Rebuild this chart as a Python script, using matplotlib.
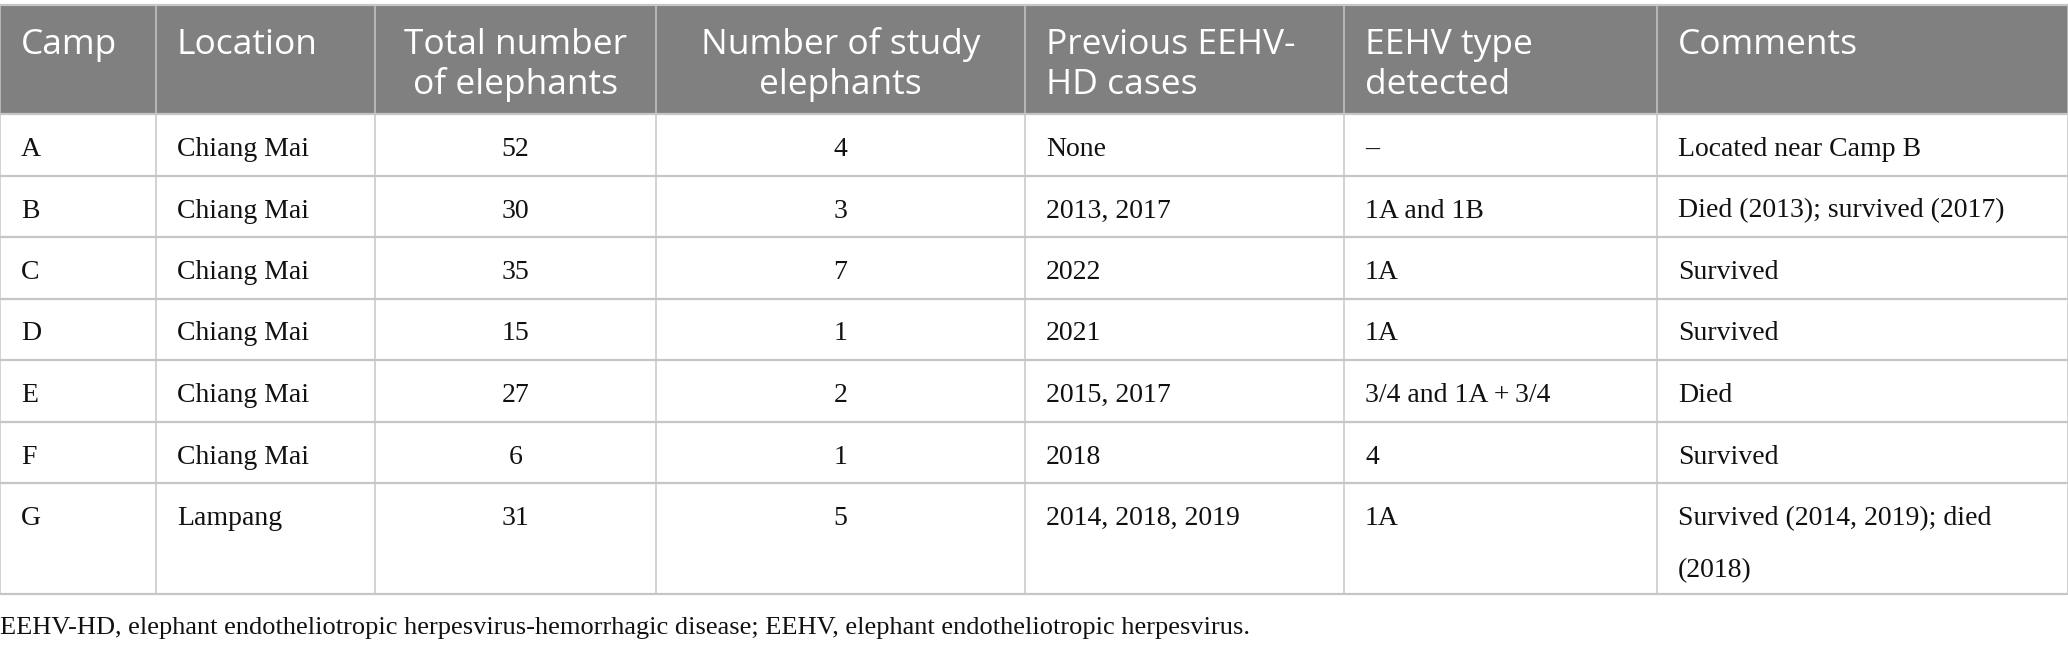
import matplotlib
import matplotlib.pyplot as plt

matplotlib.use('Agg')

# table content
headers = ['Camp', 'Location', 'Total number\nof elephants', 'Number of study\nelephants',
           'Previous EEHV-\nHD cases', 'EEHV type\ndetected', 'Comments']
camps = ['A', 'B', 'C', 'D', 'E', 'F', 'G']
locations = ['Chiang Mai'] * 6 + ['Lampang']
total_elephants = [52, 30, 35, 15, 27, 6, 31]
study_elephants = [4, 3, 7, 1, 2, 1, 5]
previous_cases = ['None', '2013, 2017', '2022', '2021', '2015, 2017', '2018', '2014, 2018, 2019']
eehv_types = ['\u2013', '1A and 1B', '1A', '1A', '3/4 and 1A\u2009+\u20093/4', '4', '1A']
comments = ['Located near Camp B', 'Died (2013); survived (2017)', 'Survived', 'Survived',
            'Died', 'Survived', 'Survived (2014, 2019); died\n(2018)']
footnote = ('EEHV-HD, elephant endotheliotropic herpesvirus-hemorrhagic disease; '
            'EEHV, elephant endotheliotropic herpesvirus.')

# layout (pixels)
W, H = 2068, 646
col_edges = [0, 156, 375, 656, 1025, 1344, 1657, 2068]
centered = [False, False, True, True, False, False, False]
header_top, header_bottom = 5, 114
row_h = 61.5
last_row_h = 111
pad = 21
line_gap = 52

HEADER_BG = '#808080'
GRID = '#c6c6c6'
serif = ['Liberation Serif', 'DejaVu Serif']
sans = ['Open Sans', 'DejaVu Sans']

fig = plt.figure(figsize=(W / 100, H / 100), dpi=100)
ax = fig.add_axes([0, 0, 1, 1])
ax.set_xlim(0, W)
ax.set_ylim(H, 0)
ax.axis('off')

# header band
ax.add_patch(plt.Rectangle((0, header_top), W, header_bottom - header_top,
                           facecolor=HEADER_BG, edgecolor='none'))

# row boundaries
row_tops = [header_bottom]
for i in range(len(camps)):
    h = last_row_h if i == len(camps) - 1 else row_h
    row_tops.append(row_tops[-1] + h)
table_bottom = row_tops[-1]

# grid lines
for y in [header_top] + row_tops:
    ax.plot([0, W], [y, y], color=GRID, lw=1.6, solid_capstyle='butt')
for x in col_edges:
    ax.plot([x, x], [header_top, table_bottom], color=GRID, lw=1.1, solid_capstyle='butt')


def cell_x(c):
    if centered[c]:
        return (col_edges[c] + col_edges[c + 1]) / 2, 'center'
    return col_edges[c] + pad, 'left'


# header text
for c, label in enumerate(headers):
    x, ha = cell_x(c)
    for k, line in enumerate(label.split('\n')):
        ax.text(x, header_top + 49 + k * 40, line, ha=ha, va='baseline',
                color='white', fontsize=25.5, family=sans)

# body text
columns = [camps, locations, total_elephants, study_elephants, previous_cases, eehv_types, comments]
for r in range(len(camps)):
    for c, col in enumerate(columns):
        x, ha = cell_x(c)
        for k, line in enumerate(str(col[r]).split('\n')):
            ax.text(x, row_tops[r] + 42 + k * line_gap, line, ha=ha, va='baseline',
                    color='#111111', fontsize=20, family=serif)

ax.text(0, 634, footnote, ha='left', va='baseline', color='#111111', fontsize=19, family=serif)

fig.savefig('out.png', dpi=100)
plt.close(fig)
